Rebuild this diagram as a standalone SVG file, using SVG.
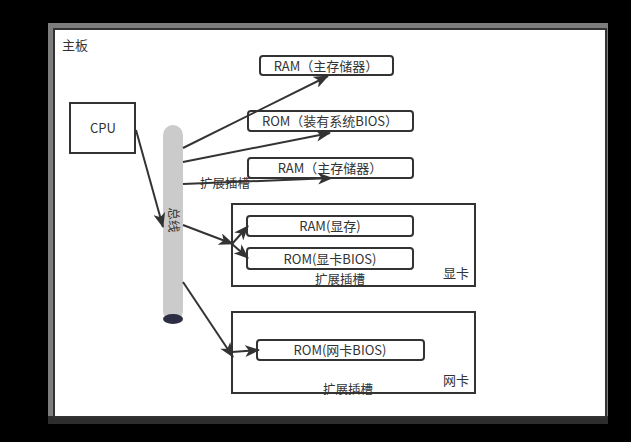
<svg xmlns="http://www.w3.org/2000/svg" width="631" height="442" viewBox="0 0 631 442">
<defs>
<style>
text{font-family:"Noto Sans CJK SC","Liberation Sans",sans-serif;fill:#333;font-size:13px}
.c{text-anchor:middle}
.box{fill:#fff;stroke:#333;stroke-width:2}
.rbox{fill:#fff;stroke:#333;stroke-width:2}
.ln{stroke:#333;stroke-width:2;fill:none;marker-end:url(#ah)}
.s{font-size:12.5px}
</style>
<marker id="ah" markerUnits="userSpaceOnUse" markerWidth="16" markerHeight="12" refX="14" refY="6" orient="auto">
<path d="M0,0 L15,6 L0,12 L4,6 Z" fill="#333"/>
</marker>
</defs>
<rect x="0" y="0" width="631" height="442" fill="#000"/>
<rect x="48" y="23" width="560" height="401" fill="#7d7d7d"/>
<rect x="48" y="416" width="560" height="8" fill="#2d2d2d"/>
<rect x="54" y="29" width="552" height="388" fill="#fff" stroke="#333" stroke-width="2"/>
<text x="62" y="50">主板</text>

<g id="cpu"><rect class="box" x="70" y="103" width="65" height="50"/><text class="c" x="103" y="133">CPU</text></g>

<g id="bus">
<rect x="163" y="125" width="20" height="196" rx="10" fill="#cbcbcb"/>
<ellipse cx="173" cy="319" rx="10" ry="5" fill="#2d2d44"/>
<text class="c s" transform="translate(173,220) rotate(90)" y="4">总线</text>
</g>

<g id="ram1"><rect class="rbox" x="260" y="56" width="133" height="19" rx="3"/><text class="c" x="326" y="70.5">RAM（主存储器）</text></g>
<g id="rom1"><rect class="rbox" x="248" y="111" width="165" height="20" rx="3"/><text class="c" x="330" y="126">ROM（装有系统BIOS）</text></g>
<g id="ram2"><rect class="rbox" x="248" y="158" width="165" height="20" rx="3"/><text class="c" x="330" y="173">RAM（主存储器）</text></g>

<g id="gpu">
<rect class="box" x="232" y="204" width="243" height="82"/>
<text x="443" y="278">显卡</text>
</g>
<g id="vram"><rect class="rbox" x="247" y="216" width="166" height="20" rx="3"/><text class="c" x="330" y="231">RAM(显存)</text></g>
<g id="vrom"><rect class="rbox" x="247" y="248" width="166" height="21" rx="3"/><text class="c" x="330" y="263.5">ROM(显卡BIOS)</text></g>

<g id="nic">
<rect class="box" x="232" y="312" width="243" height="81"/>
<text x="443" y="385">网卡</text>
</g>
<g id="nrom"><rect class="rbox" x="257" y="340" width="167" height="20" rx="3"/><text class="c" x="340" y="355">ROM(网卡BIOS)</text></g>

<g id="connectors">
<line class="ln" x1="136" y1="130" x2="163" y2="227"/>
<line class="ln" x1="183" y1="148" x2="328" y2="76"/>
<line class="ln" x1="183" y1="162" x2="330" y2="133"/>
<line class="ln" x1="183" y1="184" x2="332" y2="178"/>
<line class="ln" x1="183" y1="225" x2="233" y2="244"/>
<line class="ln" x1="232" y1="244" x2="248" y2="226"/>
<line class="ln" x1="232" y1="244" x2="248" y2="258"/>
<line class="ln" x1="183" y1="282" x2="233" y2="357"/>
<line class="ln" x1="232" y1="352" x2="259" y2="350"/>
</g>
<text class="s" x="200" y="188">扩展插槽</text>
<text class="c s" x="340" y="284">扩展插槽</text>
<text class="c s" x="348" y="394">扩展插槽</text>
</svg>
